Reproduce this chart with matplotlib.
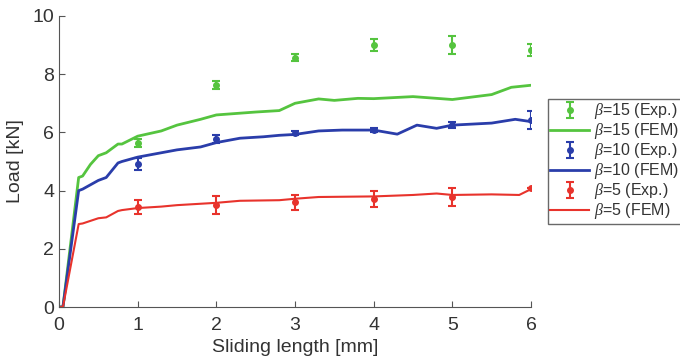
import matplotlib.pyplot as plt

plt.rcParams['font.family'] = ['Liberation Sans', 'DejaVu Sans']
plt.rcParams['mathtext.fontset'] = 'custom'
plt.rcParams['mathtext.it'] = 'Liberation Serif:italic'

# Experimental points (mean and error) for each beta
exp_x = [1, 2, 3, 4, 5, 6]
exp15 = [5.64, 7.63, 8.56, 9.0, 9.0, 8.83]
err15 = [0.15, 0.15, 0.12, 0.2, 0.3, 0.22]
exp10 = [4.91, 5.77, 5.98, 6.08, 6.25, 6.43]
err10 = [0.2, 0.13, 0.08, 0.06, 0.1, 0.3]
exp5 = [3.44, 3.5, 3.6, 3.7, 3.78, 4.08]
err5 = [0.25, 0.3, 0.25, 0.28, 0.3, 0.0]

# FEM curves
fem15_x = [0, 0.05, 0.25, 0.3, 0.4, 0.5, 0.6, 0.75, 0.8, 1.0, 1.3, 1.5, 1.8, 2.0,
           2.5, 2.8, 3.0, 3.3, 3.5, 3.8, 4.0, 4.5, 5.0, 5.5, 5.75, 6.0]
fem15_y = [0, 0, 4.45, 4.5, 4.9, 5.2, 5.3, 5.6, 5.6, 5.87, 6.05, 6.25, 6.45, 6.6,
           6.7, 6.75, 7.0, 7.15, 7.1, 7.17, 7.16, 7.23, 7.13, 7.3, 7.55, 7.62]
fem10_x = [0, 0.05, 0.25, 0.3, 0.5, 0.6, 0.75, 0.8, 1.0, 1.3, 1.5, 1.8, 2.0, 2.3,
           2.6, 2.8, 3.0, 3.3, 3.6, 4.0, 4.3, 4.55, 4.8, 5.0, 5.5, 5.8, 6.0]
fem10_y = [0, 0, 4.0, 4.05, 4.35, 4.45, 4.95, 5.0, 5.15, 5.3, 5.4, 5.5, 5.65, 5.8,
           5.85, 5.9, 5.93, 6.05, 6.08, 6.08, 5.94, 6.25, 6.14, 6.25, 6.32, 6.45, 6.37]
fem5_x = [0, 0.05, 0.25, 0.3, 0.5, 0.6, 0.75, 0.8, 1.0, 1.3, 1.5, 2.0, 2.3, 2.8,
          3.0, 3.3, 4.0, 4.5, 4.8, 5.0, 5.5, 5.85, 6.0]
fem5_y = [0, 0, 2.85, 2.87, 3.05, 3.08, 3.3, 3.33, 3.4, 3.45, 3.5, 3.58, 3.65, 3.67,
          3.72, 3.78, 3.8, 3.85, 3.9, 3.85, 3.87, 3.85, 4.05]

green = '#55c43f'
blue = '#2a3daa'
red = '#e8332c'

fig = plt.figure(figsize=(6.8, 3.61), dpi=100)
ax = fig.add_axes([59 / 680, 1 - 307 / 361, 472 / 680, 291 / 361])

eb = dict(fmt='o', ms=4, capsize=3, elinewidth=1.5, capthick=1.5)
h1 = ax.errorbar(exp_x, exp15, yerr=err15, color=green, **eb)
h2, = ax.plot(fem15_x, fem15_y, color=green, lw=2)
h3 = ax.errorbar(exp_x, exp10, yerr=err10, color=blue, **eb)
h4, = ax.plot(fem10_x, fem10_y, color=blue, lw=2)
h5 = ax.errorbar(exp_x, exp5, yerr=err5, color=red, **eb)
h6, = ax.plot(fem5_x, fem5_y, color=red, lw=1.5)

labels = [r'$\beta$=15 (Exp.)', r'$\beta$=15 (FEM)', r'$\beta$=10 (Exp.)',
          r'$\beta$=10 (FEM)', r'$\beta$=5 (Exp.)', r'$\beta$=5 (FEM)']

ax.set_xlim(0, 6)
ax.set_ylim(0, 10)
ax.set_xticks(range(0, 7))
ax.set_yticks(range(0, 11, 2))
for s in ['top', 'right']:
    ax.spines[s].set_visible(False)
for s in ['left', 'bottom']:
    ax.spines[s].set_color('#555555')
ax.tick_params(direction='in', length=4, colors='#555555', labelcolor='#333333',
               labelsize=14)
ax.tick_params(axis='x', pad=7)
ax.set_xlabel('Sliding length [mm]', fontsize=14, color='#333333', labelpad=4)
ax.set_ylabel('Load [kN]', fontsize=14, color='#333333', labelpad=6)

leg = fig.legend([h1, h2, h3, h4, h5, h6], labels, loc='upper left',
                 bbox_to_anchor=(548 / 680, 1 - 99 / 361),
                 fontsize=11.5, handlelength=2.4, handleheight=0.5, labelspacing=0.0,
                 borderaxespad=0, borderpad=0.15, handletextpad=0.3, fancybox=False)
leg.get_frame().set_edgecolor('#444444')
for t in leg.get_texts():
    t.set_color('#333333')

fig.savefig('out.png', dpi=100)
